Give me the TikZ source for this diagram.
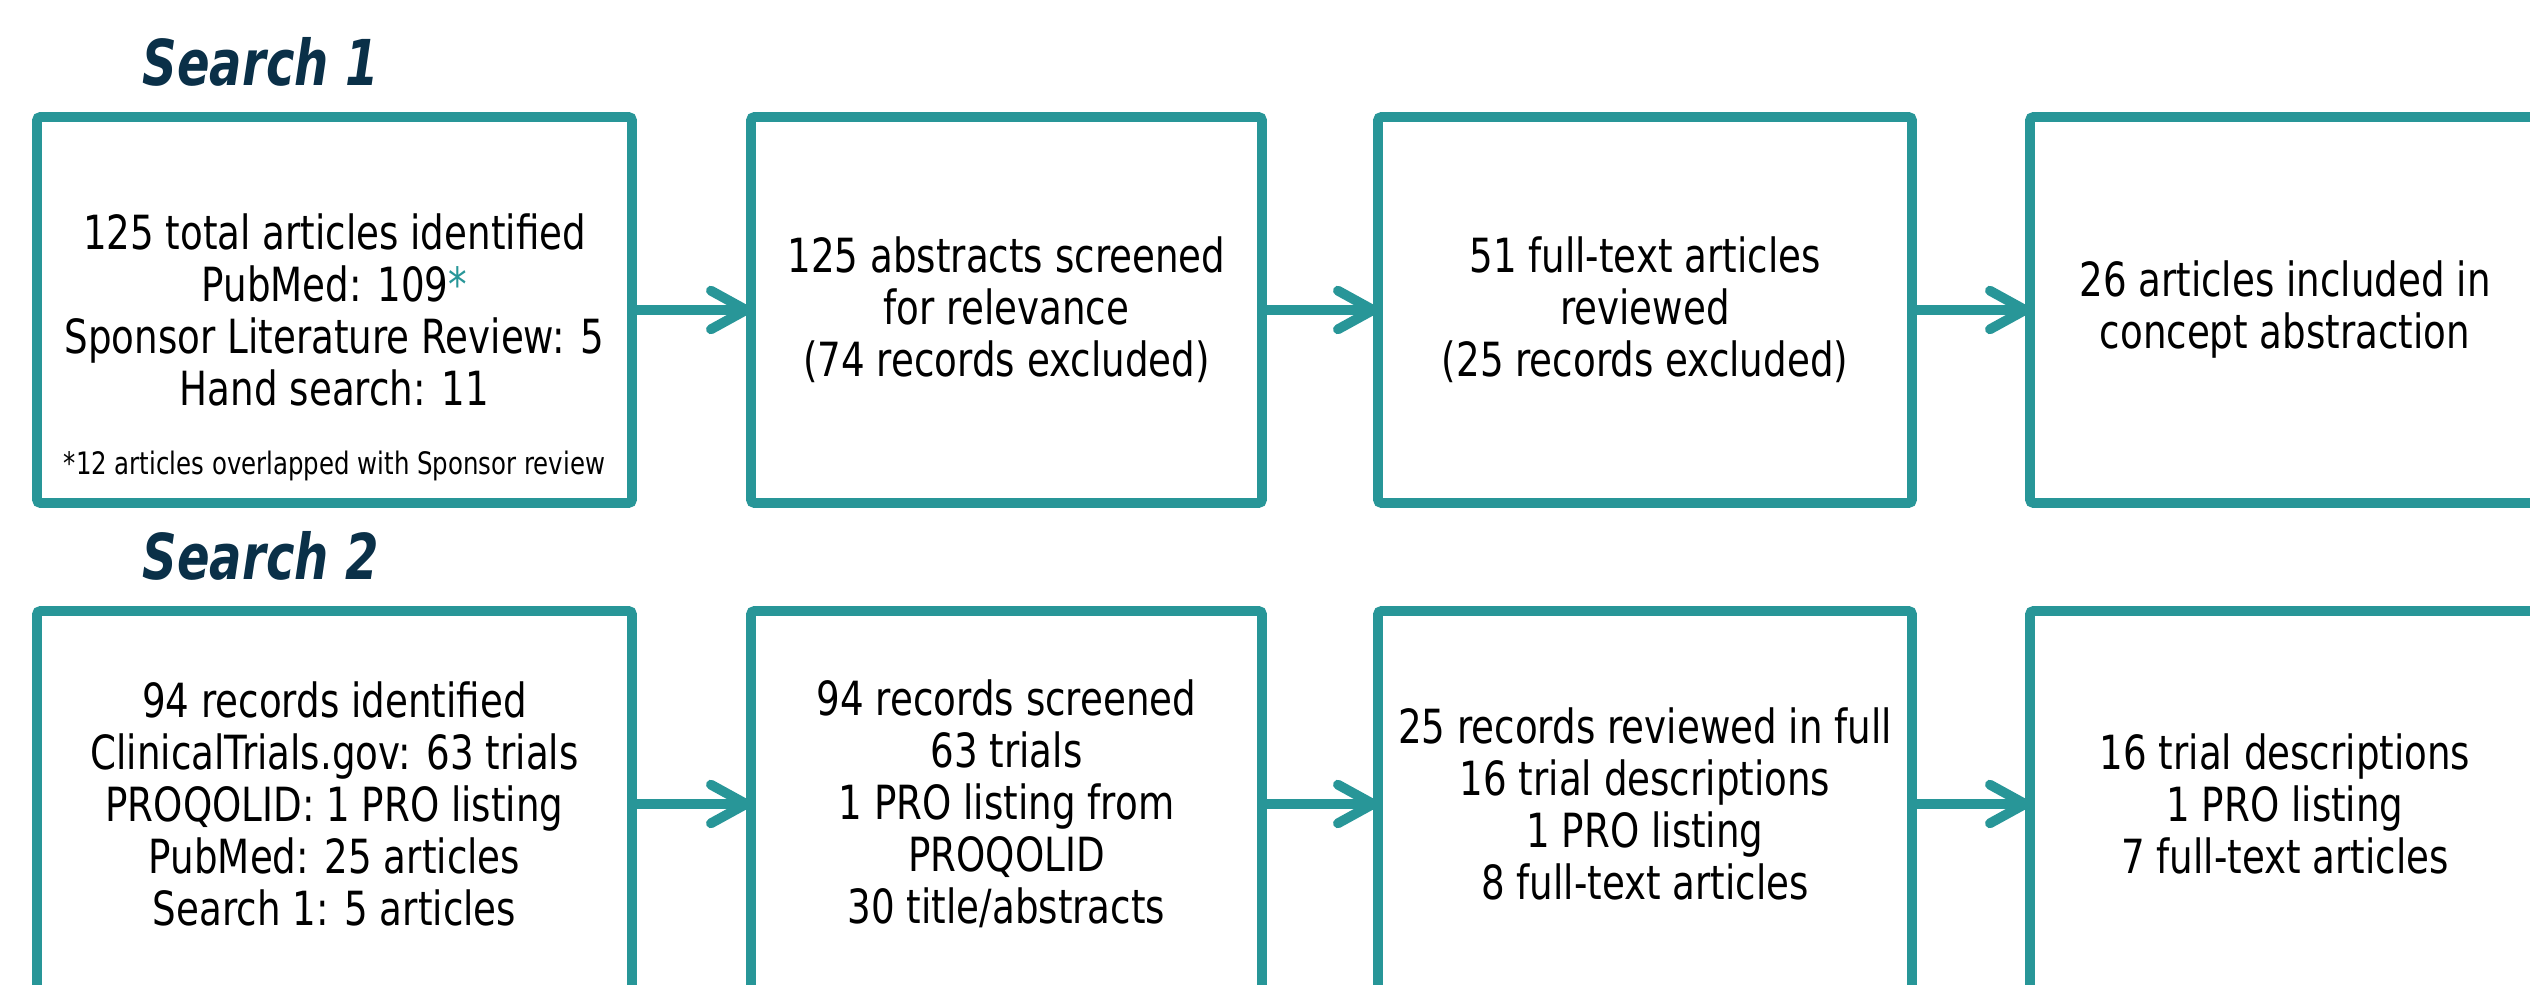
\documentclass[tikz,border=0pt]{standalone}
\usepackage{fontspec}
\setmainfont{DejaVu Sans}[FakeStretch=0.79]
\newfontfamily\titrefont{DejaVu Sans}[FakeStretch=0.76]
\usetikzlibrary{arrows.meta}
\definecolor{sarcelle}{RGB}{40,150,152}
\definecolor{marine}{RGB}{10,48,72}

\begin{document}
\begin{tikzpicture}[
  boite/.style={draw=sarcelle, line width=2.8pt, rounded corners=1pt,
    minimum height=3.86cm, align=center, inner sep=0pt, outer sep=0pt,
    font=\fontsize{13.4}{14.8}\selectfont},
  fleche/.style={draw=sarcelle, line width=2.8pt,
    -{Straight Barb[length=10pt,width=11pt,round]}},
  titre/.style={text=marine, anchor=base west, inner sep=0pt,
    font=\titrefont\fontsize{18}{20}\selectfont\bfseries\itshape},
  note/.style={font=\fontsize{8.8}{10}\selectfont, inner sep=0pt}]
  % Cadre
  \useasboundingbox (0,0) rectangle (25.3,-9.85);
  \clip (0,0) rectangle (25.3,-9.85);

  % Titres
  \node[titre] (t1) at (1.42,-0.86) {Search 1};
  \node[titre] (t2) at (1.42,-5.80) {Search 2};

  % Recherche 1
  \node[boite, minimum width=5.95cm] (s1a) at (3.345,-3.10)
    {125 total articles identified\\PubMed: 109\textcolor{sarcelle}{*}\\
     Sponsor Literature Review: 5\\Hand search: 11};
  \node[note] (s1n) at (3.345,-4.66) {*12 articles overlapped with Sponsor review};
  \node[boite, minimum width=5.11cm] (s1b) at (10.065,-3.10)
    {125 abstracts screened\\for relevance\\ (74 records excluded)};
  \node[boite, minimum width=5.34cm] (s1c) at (16.45,-3.10)
    {51 full-text articles\\reviewed\\ (25 records excluded)};
  \node[boite, minimum width=5.10cm] (s1d) at (22.85,-3.10)
    {26 articles included in\\concept abstraction};

  % Recherche 2
  \node[boite, minimum width=5.95cm] (s2a) at (3.345,-8.04)
    {94 records identified\\ClinicalTrials.gov: 63 trials\\PROQOLID: 1 PRO listing\\
     PubMed: 25 articles\\Search 1: 5 articles};
  \node[boite, minimum width=5.11cm] (s2b) at (10.065,-8.04)
    {94 records screened\\63 trials\\1 PRO listing from\\PROQOLID\\30 title/abstracts};
  \node[boite, minimum width=5.34cm] (s2c) at (16.45,-8.04)
    {25 records reviewed in full\\16 trial descriptions\\1 PRO listing\\8 full-text articles};
  \node[boite, minimum width=5.10cm] (s2d) at (22.85,-8.04)
    {16 trial descriptions\\1 PRO listing\\7 full-text articles};

  % Fleches
  \foreach \r in {1,2}{
    \draw[fleche] (s\r a.east) -- (s\r b.west);
    \draw[fleche] (s\r b.east) -- (s\r c.west);
    \draw[fleche] (s\r c.east) -- (s\r d.west);
  }
\end{tikzpicture}
\end{document}
